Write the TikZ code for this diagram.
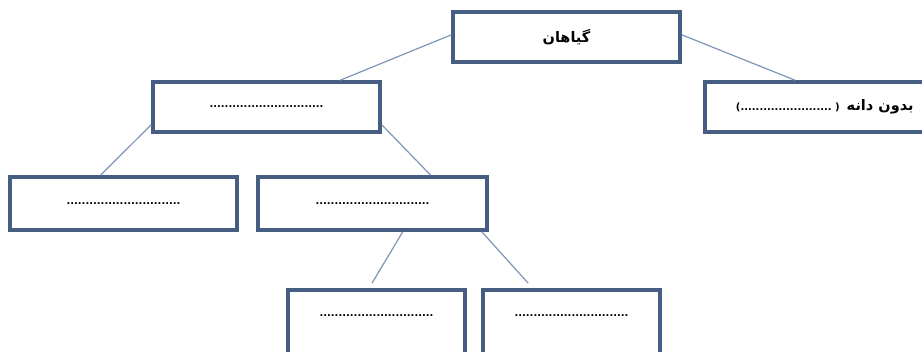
\documentclass[tikz,border=0pt]{standalone}
\usepackage{fontspec}
\usetikzlibrary{calc}
\TeXXeTstate=1
\newfontfamily\arabicfont[Script=Arabic]{DejaVu Sans}
\newfontfamily\latinfont{DejaVu Sans}
\definecolor{boxline}{RGB}{70,94,130}
\definecolor{conn}{RGB}{128,150,182}
\tikzset{
  box/.style={draw=boxline, line width=3.6pt, fill=white, rectangle, inner sep=0pt,
    minimum width=227pt, minimum height=50pt, font=\latinfont\bfseries\fontsize{10}{12}\selectfont},
  boxtext/.style={font=\latinfont\bfseries\fontsize{10}{12}\selectfont},
  link/.style={draw=conn, line width=1.2pt},
}
\newcommand{\dotrow}{..............................}
\newcommand{\ar}[1]{{\arabicfont\bfseries\fontsize{14.5}{16}\selectfont\beginR #1\endR}}
\begin{document}
\begin{tikzpicture}[x=1pt,y=1pt]
\clip (0,0) rectangle (922,-352);
\fill[white] (0,0) rectangle (922,-352);
% boxes
\node[box] (top) at (566.5,-37) {\ar{گیاهان}};
\node[box] (midL) at (266.5,-107) {\dotrow};
\node[box, minimum width=240pt, anchor=west] (right) at (703,-107) {(........................\ )\ \ \ar{بدون دانه}};
\node[box, minimum height=53pt] (L) at (123.5,-203.5) {\dotrow};
\node[box, minimum width=229pt, minimum height=53pt] (M) at (372.5,-203.5) {\dotrow};
\node[box, minimum width=173pt, minimum height=48pt] (BL) at (376.5,-316) {\dotrow};
\node[box, minimum width=173pt, minimum height=48pt] (BR) at (571.5,-316) {\dotrow};
% the last boxes run past the bottom of the picture
\draw[boxline, line width=3.6pt, fill=white] (BL.north west) -- (BL.north east) -- ($(BL.north east)+(0,-80)$) -- ($(BL.north west)+(0,-80)$) -- cycle;
\node[boxtext] (BLt) at (BL.center) {\dotrow};
\draw[boxline, line width=3.6pt, fill=white] (BR.north west) -- (BR.north east) -- ($(BR.north east)+(0,-80)$) -- ($(BR.north west)+(0,-80)$) -- cycle;
\node[boxtext] (BRt) at (BR.center) {\dotrow};
% connectors
\coordinate (e1) at ($(BL.north)+(-4.5,7)$);
\coordinate (e2) at ($(BR.north west)+(45,7)$);
\draw[link] ($(top.north west)!0.46!(top.south west)$) -- ($(midL.north west)!0.82!(midL.north east)$);
\draw[link] ($(top.north east)!0.46!(top.south east)$) -- ($(right.north west)+(92,0)$);
\draw[link] ($(midL.south west)+(0,9)$) -- ($(L.north west)!0.40!(L.north east)$);
\draw[link] ($(midL.south east)+(0,9)$) -- ($(M.north west)!0.75!(M.north east)$);
\draw[link] ($(M.south west)!0.63!(M.south east)$) -- (e1);
\draw[link] ($(M.south west)!0.97!(M.south east)$) -- (e2);
\end{tikzpicture}
\end{document}
